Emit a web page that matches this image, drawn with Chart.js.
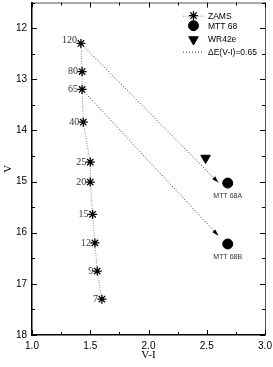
<!DOCTYPE html>
<html>
<head>
<meta charset="utf-8">
<script src="https://cdn.jsdelivr.net/npm/chart.js@4/dist/chart.umd.min.js"></script>
<style>
    html, body { margin: 0; padding: 0; background: #fff; }
    #wrap { width: 273px; height: 367px; position: relative; overflow: hidden; }
    #inner { position: absolute; left: 0; top: -4px; width: 273px; height: 371px; }
</style>
</head>
<body>
<div id="wrap"><div id="inner"><canvas id="cmd"></canvas></div></div>
<script>
// ZAMS track (mass labels in solar masses)
const zamsMass = ['120', '80', '65', '40', '25', '20', '15', '12', '9', '7'];
const zamsVI = [1.42, 1.43, 1.43, 1.44, 1.50, 1.50, 1.52, 1.54, 1.56, 1.60];
const zamsV = [12.30, 12.85, 13.20, 13.84, 14.62, 15.01, 15.64, 16.20, 16.75, 17.30];

// MTT 68 components
const mttNames = ['MTT 68A', 'MTT 68B'];
const mttVI = [2.68, 2.68];
const mttV = [15.03, 16.22];

// WR42e
const wrVI = [2.49];
const wrV = [14.54];

// reddening vectors, start/end
const redStartVI = [1.42, 1.43];
const redStartV = [12.30, 13.20];
const redEndVI = [2.60, 2.60];
const redEndV = [15.02, 16.06];

const xTicks = [1.0, 1.5, 2.0, 2.5, 3.0];
const yTicks = [12, 13, 14, 15, 16, 17, 18];

const toPts = (xs, ys) => xs.map((x, i) => ({x: x, y: ys[i]}));

let datasets = [
    {
        label: 'ZAMS', data: toPts(zamsVI, zamsV), showLine: true,
        borderColor: '#888', borderWidth: 1, borderDash: [1, 1.5],
        pointStyle: 'star', pointRadius: 4.5, pointBorderColor: '#000',
        pointBorderWidth: 1.3, pointBackgroundColor: '#000'
    },
    {
        label: 'MTT 68', data: toPts(mttVI, mttV), showLine: false,
        pointStyle: 'circle', pointRadius: 5, pointBackgroundColor: '#000', pointBorderColor: '#000'
    },
    {
        label: 'WR42e', data: toPts(wrVI, wrV), showLine: false,
        pointStyle: 'triangle', rotation: 180, pointRadius: 5.5,
        pointBackgroundColor: '#000', pointBorderColor: '#000'
    }
];
for (let i = 0; i < redStartVI.length; i++) {
    datasets.push({
        label: 'ΔE(V-I)=0.65', arrow: true,
        data: [{x: redStartVI[i], y: redStartV[i]}, {x: redEndVI[i], y: redEndV[i]}],
        showLine: true, borderColor: '#333', borderWidth: 1, borderDash: [1, 2], pointRadius: 0
    });
}

const extras = {
    id: 'extras',
    afterDatasetsDraw(chart) {
        const ctx = chart.ctx;
        const xs = chart.scales.x, ys = chart.scales.y;
        const a = chart.chartArea;
        ctx.save();

        // arrowheads on reddening vectors
        chart.data.datasets.forEach(ds => {
            if (!ds.arrow) return;
            const p0 = ds.data[0], p1 = ds.data[1];
            const x0 = xs.getPixelForValue(p0.x), y0 = ys.getPixelForValue(p0.y);
            const x1 = xs.getPixelForValue(p1.x), y1 = ys.getPixelForValue(p1.y);
            const ang = Math.atan2(y1 - y0, x1 - x0);
            ctx.fillStyle = '#000';
            ctx.beginPath();
            ctx.moveTo(x1, y1);
            ctx.lineTo(x1 - 7 * Math.cos(ang - 0.3), y1 - 7 * Math.sin(ang - 0.3));
            ctx.lineTo(x1 - 7 * Math.cos(ang + 0.3), y1 - 7 * Math.sin(ang + 0.3));
            ctx.closePath();
            ctx.fill();
        });

        // mass labels
        ctx.font = '10px "Liberation Serif"';
        ctx.fillStyle = '#333';
        ctx.textAlign = 'right';
        ctx.textBaseline = 'middle';
        zamsMass.forEach((m, i) => {
            ctx.fillText(m, xs.getPixelForValue(zamsVI[i]) - 4, ys.getPixelForValue(zamsV[i]) - (i === 0 ? 3 : 0));
        });

        // MTT 68 component labels
        ctx.font = '7px "Liberation Sans"';
        ctx.textAlign = 'center';
        mttNames.forEach((n, i) => {
            ctx.fillText(n, xs.getPixelForValue(mttVI[i]), ys.getPixelForValue(mttV[i]) + 13);
        });

        // frame top/right
        ctx.strokeStyle = '#555';
        ctx.lineWidth = 1;
        ctx.beginPath();
        ctx.moveTo(a.left, a.top + 0.5); ctx.lineTo(a.right + 0.5, a.top + 0.5);
        ctx.lineTo(a.right + 0.5, a.bottom);
        ctx.stroke();

        // inward ticks on all four sides
        ctx.strokeStyle = '#000';
        for (let v = 1.0; v <= 3.0001; v += 0.25) {
            const px = Math.round(xs.getPixelForValue(v)) + 0.5;
            const len = Math.abs(v * 2 - Math.round(v * 2)) < 1e-6 ? 5 : 3;
            ctx.beginPath();
            ctx.moveTo(px, a.bottom); ctx.lineTo(px, a.bottom - len);
            ctx.moveTo(px, a.top); ctx.lineTo(px, a.top + len);
            ctx.stroke();
        }
        for (let v = 11.5; v <= 18.0001; v += 0.5) {
            const py = Math.round(ys.getPixelForValue(v)) + 0.5;
            const len = Number.isInteger(v) ? 5 : 3;
            ctx.beginPath();
            ctx.moveTo(a.left, py); ctx.lineTo(a.left + len, py);
            ctx.moveTo(a.right, py); ctx.lineTo(a.right - len, py);
            ctx.stroke();
        }

        // legend (canvas is shifted up by 4px, so add it back)
        const lx0 = 183, lx1 = 204, lxm = 193.5, tx = 208;
        const rows = [19.7, 29.7, 43.5, 55.7];
        ctx.font = '8.5px "Liberation Sans"';
        ctx.textAlign = 'left';
        [0, 1, 2, 3].forEach((di, r) => {
            const ds = chart.data.datasets[di];
            const y = rows[r];
            if (ds.showLine) {
                ctx.save();
                ctx.strokeStyle = ds.borderColor;
                ctx.setLineDash(ds.borderDash);
                ctx.beginPath();
                ctx.moveTo(lx0, y + 0.5); ctx.lineTo(lx1, y + 0.5);
                ctx.stroke();
                ctx.restore();
            }
            if (ds.pointRadius > 0) {
                ctx.fillStyle = '#000';
                ctx.strokeStyle = '#000';
                ctx.lineWidth = ds.pointBorderWidth || 1;
                Chart.helpers.drawPoint(ctx, {
                    pointStyle: ds.pointStyle, radius: ds.pointRadius,
                    rotation: ds.rotation || 0, borderWidth: ds.pointBorderWidth || 1
                }, lxm, y);
                ctx.lineWidth = 1;
            }
            ctx.fillStyle = '#000';
            ctx.fillText(ds.label, tx, y + 0.5);
        });
        ctx.restore();
    }
};

// drop the half-label overhang padding so the plot box fills the frame
const noOverhang = s => { s.paddingTop = 0; s.paddingBottom = 0; s.paddingLeft = 0; s.paddingRight = 0; };

new Chart(document.getElementById('cmd'), {
    type: 'scatter',
    data: {datasets: datasets},
    options: {
        responsive: true,
        maintainAspectRatio: false,
        animation: false,
        layout: {padding: {top: 1, right: 8, left: 0, bottom: 0}},
        plugins: {legend: {display: false}, tooltip: {enabled: false}},
        scales: {
            x: {
                type: 'linear', min: 1, max: 3,
                afterBuildTicks: s => { s.ticks = xTicks.map(v => ({value: v})); },
                afterFit: s => { s.height = 32; noOverhang(s); },
                grid: {display: false, drawTicks: false},
                border: {display: true, color: '#000', width: 1.5},
                ticks: {padding: 5, color: '#000', font: {family: 'Liberation Sans', size: 10},
                    callback: v => v.toFixed(1)},
                title: {display: true, text: 'V-I', color: '#000', padding: {top: 4, bottom: 5},
                    font: {family: 'Liberation Serif', size: 11}}
            },
            y: {
                type: 'linear', min: 11.5, max: 18, reverse: true,
                afterBuildTicks: s => { s.ticks = yTicks.map(v => ({value: v})); },
                afterFit: s => { s.width = 32; noOverhang(s); },
                grid: {display: false, drawTicks: false},
                border: {display: true, color: '#000', width: 1.5},
                ticks: {padding: 5, color: '#000', font: {family: 'Liberation Sans', size: 10},
                    callback: v => String(v)},
                title: {display: true, text: 'V', color: '#000', padding: {top: 2, bottom: 0},
                    font: {family: 'Liberation Serif', size: 11}}
            }
        }
    },
    plugins: [extras]
});
</script>
</body>
</html>
